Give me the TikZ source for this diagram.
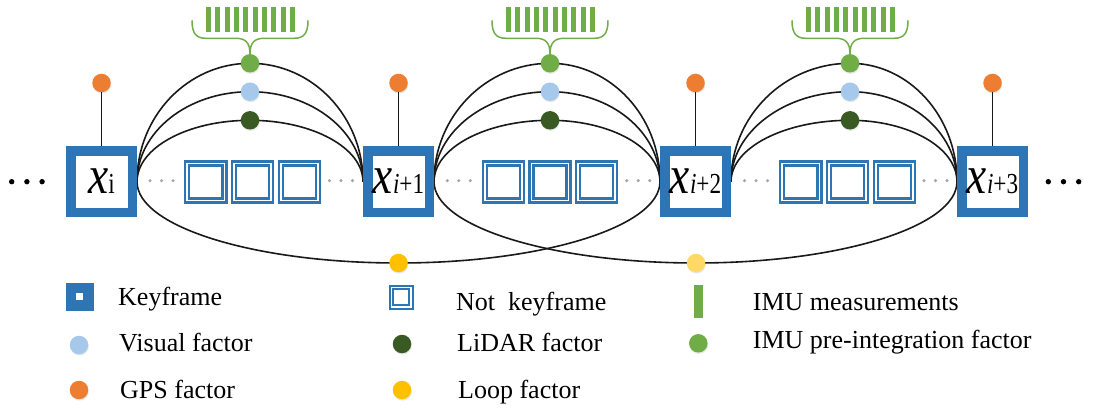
\documentclass[tikz,border=0pt]{standalone}
\usepackage{fontspec}
\setmainfont{Liberation Serif}
\usepackage{graphicx}
\usetikzlibrary{calc,backgrounds,shadows}

\definecolor{kfblue}{HTML}{2E75B6}
\definecolor{gpsorange}{HTML}{ED7D31}
\definecolor{visblue}{HTML}{A6C8EA}
\definecolor{lidgreen}{HTML}{3A5A24}
\definecolor{imugreen}{HTML}{70AD47}
\definecolor{loopyellow}{HTML}{FFC000}
\definecolor{loopyellowlight}{HTML}{FFD966}
\definecolor{dotgray}{HTML}{A6A6A6}

% keyframe label: big italic x followed by its index
\newcommand{\kfx}[1]{\scalebox{0.84}[1]{\fontsize{54}{54}\selectfont\itshape x}\scalebox{0.8}[1]{\fontsize{29}{29}\selectfont #1}}

% curve from #2 through #3 to #4, built from two quarter ellipses
\newcommand{\archalf}[4][]{%
  \draw[#1] (#2) .. controls ($(#2)!0.5523!(#2|-#3)$) and ($(#3)!0.5523!(#2|-#3)$) .. (#3)
                 .. controls ($(#3)!0.5523!(#4|-#3)$) and ($(#4)!0.5523!(#4|-#3)$) .. (#4);}

\tikzset{
  keyframe/.style={draw=kfblue, line width=9.5pt, fill=white, minimum size=61.5pt,
    inner sep=0pt, text height=24pt, text depth=0pt},
  notkey/.style={draw=kfblue, double=white, double distance=1.7pt, line width=2.3pt,
    fill=white, minimum size=37.1pt, inner sep=0pt},
  keylegend/.style={draw=kfblue, line width=10.25pt, fill=white, minimum size=17.75pt, inner sep=0pt},
  notkeylegend/.style={draw=kfblue, double=white, double distance=1.5pt, line width=2pt,
    fill=white, minimum size=19.5pt, inner sep=0pt},
  dot/.style={circle, fill=#1, minimum size=18.5pt, inner sep=0pt,
    drop shadow={opacity=0.18, shadow xshift=0.6pt, shadow yshift=-1.3pt}},
  gdot/.style={circle, fill=dotgray, minimum size=3.4pt, inner sep=0pt},
  bdot/.style={circle, fill=black, minimum size=5.4pt, inner sep=0pt},
  conn/.style={draw=black!90, line width=1.6pt},
  legtext/.style={anchor=base west, inner sep=0pt, font=\fontsize{26}{28}\selectfont},
  imubrace/.pic={
    \foreach \k in {0,...,9}
      \fill[imugreen] ({-44+9.33*\k},-56) rectangle ++(5,25);
    \draw[imugreen, line width=1.5pt]
      (-58,-43) .. controls (-58,-30) and (-54,-25) .. (-44,-25) -- (-14,-25)
      .. controls (-4,-25) and (0,-20) .. (0,-9.5)
      .. controls (0,-20) and (4,-25) .. (14,-25) -- (44,-25)
      .. controls (54,-25) and (58,-30) .. (58,-43);
  }
}

\begin{document}
\begin{tikzpicture}[x=1pt,y=-1pt]
\useasboundingbox (0,0) rectangle (1093,409);

% keyframes
\node[keyframe] (kf0) at (101.5,181.7) {\kfx{i}};
\node[keyframe] (kf1) at (398.5,181.7) {\kfx{\textit{i}+1}};
\node[keyframe] (kf2) at (695.5,181.7) {\kfx{\textit{i}+2}};
\node[keyframe] (kf3) at (992.5,181.7) {\kfx{\textit{i}+3}};

% frames that are not keyframes
\foreach \s/\c in {1/252.5, 2/550, 3/847.5} {
  \node[notkey] (nkl\s) at (\c-46.7,182) {};
  \node[notkey] (nkm\s) at (\c,182) {};
  \node[notkey] (nkr\s) at (\c+46.7,182) {};
}

% IMU pre-integration, visual and LiDAR factors
\foreach \s/\c in {1/250, 2/550, 3/850} {
  \node[dot=imugreen] (imu\s) at (\c,63.3) {};
  \node[dot=visblue]  (vis\s) at (\c,91.7) {};
  \node[dot=lidgreen] (lid\s) at (\c,120.3) {};
  \pic at (imu\s.center) {imubrace};
}

% loop factors
\node[dot=loopyellow]      (loopA) at (398.5,263) {};
\node[dot=loopyellowlight] (loopB) at (696,263) {};

% GPS factors
\foreach \i in {0,...,3} {
  \node[dot=gpsorange] (gps\i) at ($(kf\i.center)+(0,-98.7)$) {};
  \draw[conn] (gps\i) -- (kf\i);
}

% factor edges between consecutive keyframes and loop edges
\begin{scope}[on background layer]
  \foreach \s/\l/\r in {1/kf0/kf1, 2/kf1/kf2, 3/kf2/kf3} {
    \foreach \f in {imu,vis,lid} {
      \archalf[conn]{\l.east}{\f\s.center}{\r.west}
    }
  }
  \archalf[conn]{kf0.east}{loopA.center}{kf2.west}
  \archalf[conn]{kf1.east}{loopB.center}{kf3.west}
\end{scope}

% small gray dots around the non-keyframes
\foreach \s/\l/\r in {1/kf0/kf1, 2/kf1/kf2, 3/kf2/kf3} {
  \foreach \d [count=\j] in {-11.5,0,11.5} {
    \node[gdot] (gl\s\j) at ($(\l.east)!0.5!(nkl\s.west)+(\d,-1.2)$) {};
    \node[gdot] (gr\s\j) at ($(nkr\s.east)!0.5!(\r.west)+(\d,-1.2)$) {};
  }
}

% continuation dots at both ends
\foreach \x [count=\j] in {11.7,26.9,42.1}
  \node[bdot] (ldot\j) at (\x,181.7) {};
\foreach \x [count=\j] in {1048.3,1063.5,1078.7}
  \node[bdot] (rdot\j) at (\x,181.7) {};

% legend
\node[keylegend] (lgkey) at (79.5,296.7) {};
\node[legtext] (tkey) at (118,305.7) {Keyframe};
\node[dot=visblue] (lgvis) at (79,345) {};
\node[legtext] (tvis) at (119,351.7) {Visual factor};
\node[dot=gpsorange] (lggps) at (79,390) {};
\node[legtext] (tgps) at (120,398.3) {GPS factor};

\node[notkeylegend] (lgnk) at (401,297) {};
\node[legtext] (tnk) at (456,310) {Not~ keyframe};
\node[dot=lidgreen] (lglid) at (402,344) {};
\node[legtext] (tlid) at (457,351.7) {LiDAR factor};
\node[dot=loopyellow] (lgloop) at (402,390) {};
\node[legtext] (tloop) at (458,398.3) {Loop factor};

\node[fill=imugreen, minimum width=9pt, minimum height=33pt, inner sep=0pt] (lgbar) at (698.7,301.7) {};
\node[legtext] (tbar) at (752.7,310.7) {IMU measurements};
\node[dot=imugreen] (lgimu) at (698.3,343.3) {};
\node[legtext] (timu) at (752.7,348.3) {IMU pre-integration factor};
\end{tikzpicture}
\end{document}
